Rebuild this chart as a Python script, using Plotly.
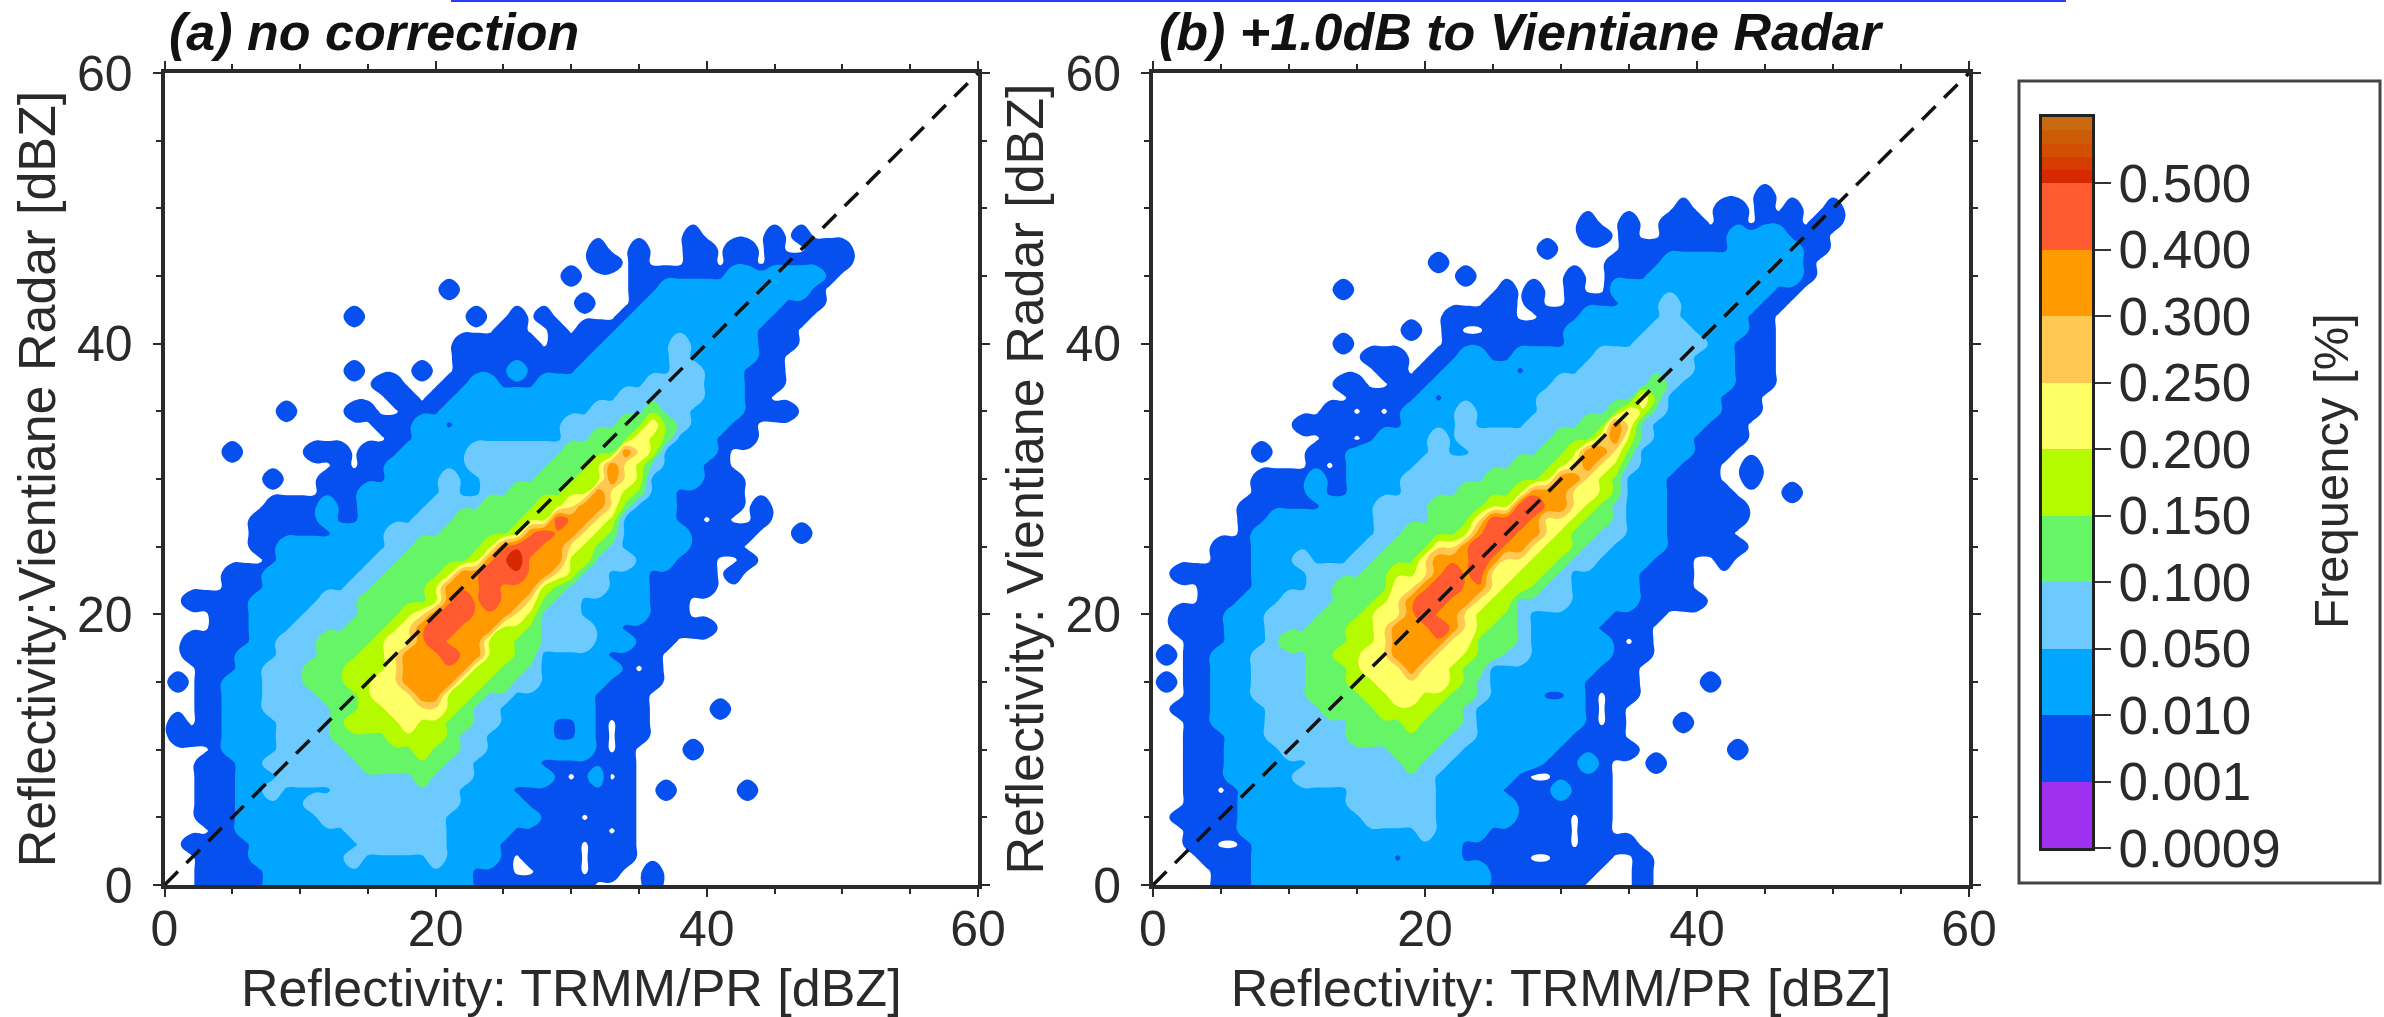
import numpy as np
import plotly.graph_objects as go

W, H = 2384, 1017
N = 53
TICKS = [0, 20, 40, 60]
BAR_LABELS = ["0.0009", "0.001", "0.010", "0.050", "0.100", "0.150", "0.200",
              "0.250", "0.300", "0.400", "0.500"]
COLORS = ["#ffffff", "#0650f0", "#00a6ff", "#6ccaff", "#66f566", "#b4fb00",
          "#ffff66", "#ffc850", "#ff9a00", "#ff5a30", "#d82800"]
PURPLE = "#a030f0"
TOP_BAND = ["#d82800", "#d63c00", "#d24e00", "#cc5c08", "#c86a10"]

# Extent read per row (row = Vientiane dBZ): [from, to, from, to ...] along TRMM dBZ
A_DARK = {48:[38.4,40.3,44.3,45.3,46.5,47.5],47:[31,32.5,34.2,36.3,37.7,40.5,41.5,43.4,44.3,45.5,46.7,50.7],
46:[31.4,33.5,34.2,36.3,37.7,40.5,41.5,43.5,44.3,50.7],45:[29.3,30.4,34.2,49.5],44:[20.3,21.5,34,49],
43:[29.7,31.7,34,48.8],42:[13.3,14.5,22.3,23.8,24.8,26.7,27.2,29,33,47.4],41:[24,27,28,29.7,30.5,46.9],
40:[21,27.5,28.2,46.7],39:[21,46.2],38:[13.3,14.5,18.2,19.6,20.8,45.7],37:[15,18.3,19.7,45.7],36:[16,18.6,19,45],
35:[8,10,13.2,15.4,17,46.5],34:[15,44],33:[15.7,43.4],32:[4,5.6,10,13.4,14,41.7],31:[12,42],30:[7.2,8.4,11,42.5],
29:[11.5,42.4],28:[7,42.4,43.5,44.6],27:[6.4,42,43.5,44.6],26:[6,43.6,46.5,47.8],25:[6,43],24:[7,40.6,42,43.6],
23:[4,40.6,41.5,43],22:[4,40.6],21:[1.2,39.2],20:[3,38.9],19:[3,40.6],18:[1,37.7],17:[1,36.8],16:[2,36.6],
15:[0,1.4,2,36.6],14:[2,36.3],13:[2,36.3,40.4,41.6],12:[0,1.5,2,36.3],11:[0,35.4],10:[3,35,38.3,39.7],9:[2,35],
8:[2,34.7],7:[2,34.7,36.3,37.7,42.3,43.7],6:[2,34.7],5:[2,34.7],4:[3,34.7],3:[1,34.7],2:[1.8,34.5],
1:[2,33.5,35.5,36.7],0:[2,32.3,35.5,36.7]}
A_MID = {45:[41,49],44:[36,47.6],43:[35,45.7],42:[33.5,45],41:[33.3,44.3],40:[32,44],39:[31,43.6],38:[25.2,26.5,30,43],
37:[21.5,25,27,43],36:[20.5,43],35:[20,43],34:[17.6,42],33:[17.9,41],32:[17.3,40.8],31:[15.9,39.6],30:[15.6,40],
29:[13.7,38.4],28:[11,13,14,38.2],27:[11.7,13,13.7,38.5],26:[11.5,38.7],25:[8.3,38.7],24:[8,37.7],23:[7,35.9],
22:[7,36.3],21:[5.8,36.3],20:[5.6,36.3],19:[6,35],18:[5.6,35],17:[5,34.4],16:[4.5,34.2],15:[4,33.3],14:[3.6,31.9],
13:[3.6,31.6],12:[3.6,31.6],11:[4,31.9],10:[3.7,32],9:[5,28.5],8:[5,29,31.4,33],7:[5,26.5],6:[4.9,26.7],5:[4.8,28],
4:[5,26.2],3:[6.1,25.2],2:[6.4,24.7],1:[6.8,22.8],0:[7,23]}
A_LIGHT = {40:[37,39],39:[36.5,39.5],38:[36.5,40],37:[34.5,40],36:[32.5,40],35:[30.5,39.5],34:[29,39],33:[29,38.4],
32:[21.7,37.5],31:[22.3,36.6],30:[20.6,21.6,23,36],29:[20.6,21.3,23.3,35.4],28:[18.6,35],27:[18.4,34.5],26:[16,34],
25:[16,34],24:[15,34.6],23:[13.7,33.5],22:[12.7,32.6],21:[10.5,31],20:[9.8,31.4],19:[8.8,31.6],18:[8,31.6],
17:[7.8,28.2],16:[7.4,28.4],15:[7.2,28.2],14:[7,25.7],13:[7.3,24.7],12:[7.5,24.6],11:[7.7,24.4],10:[7.7,23.8],
9:[7.3,23.5],8:[7.5,23],7:[8,9,12,22.5],6:[10.4,21.7],5:[11,21.3],4:[12.5,20.8],3:[13.7,20.6],2:[13.7,14.2,19.8,20.3]}
A_GREEN = {8:[17.9,20],9:[13.7,20.8],10:[13.4,22],11:[11.7,22.5],12:[11.5,23],13:[11.5,23.5],14:[10.7,24],15:[10,25.7],
16:[9.6,26.7],17:[11.2,27.7],18:[11,27.7],19:[12.5,27.7],20:[13.7,27.7],21:[14,29.2],22:[14.7,30],23:[15.6,31],
24:[17.2,32],25:[17.6,33],26:[19.8,33.6],27:[20.6,34],28:[22.5,35],29:[24.5,36],30:[26.7,36.5],31:[28.4,36.3],
32:[29.4,37],33:[30.9,37.7],34:[33,38],35:[34.8,37.5]}
A_LIME = {10:[18.6,19.6],11:[16,20.8],12:[13.4,21.5],13:[14,22.5],14:[14,23],15:[13.2,24.3],16:[13.4,25],17:[14.2,25.7],
18:[15,26],19:[15.9,26.7],20:[16.9,27.7],21:[18.6,28.4],22:[19.3,29.4],23:[20,30.9],24:[21.8,31.6],25:[22.8,32],
26:[24.5,33],27:[26,33.8],28:[27.4,34.2],29:[28.7,35.4],30:[30,36.3],31:[30.6,36.5],32:[32.6,36.7],33:[33.8,37],34:[35.3,37]}
A_YELLOW = {12:[16.9,18.6],13:[15.9,21],14:[15.2,21.5],15:[15,22.5],16:[15.6,23.5],17:[15.7,24.2],18:[16,24.5],19:[17,25.5],
20:[17.9,27],21:[19.8,27.7],22:[20,28.2],23:[21,29.7],24:[23.5,30.4],25:[25,31],26:[26,32],27:[28.2,32.6],28:[29.4,33.6],
29:[30.6,34],30:[31.9,35],31:[32.5,35.5],32:[33,35.8],33:[34.3,36.2],34:[35.5,36.5]}
A_ORANGE = {14:[18,20.6],15:[17,21.8],16:[17.1,22.5],17:[17.6,23.5],18:[17.9,23.8],19:[18.4,24.5],20:[19,26],21:[20,26.7],
22:[20,27.5],23:[21.8,28.7],24:[23.8,29.4],25:[24.5,30],26:[26.5,30.9],27:[29,31.6],28:[30,32.6],29:[31.1,33],30:[31.9,33.6],
31:[32.6,34],32:[33.3,34.3]}
A_RED = {17:[20.3,20.8],18:[19.4,21.3],19:[19.4,22],20:[20.4,22.8],21:[21.8,22.3,23.5,24],22:[23.3,25],23:[23.3,26.5],
24:[24.5,27.2],25:[25.2,28],26:[27,29],27:[28.4,29]}
A_PEAK = {24:[25.7,26.3]}
# single cells (column, row) where the picture shows a white hole or a dark island
A_HOLES = [(31,1),(31,2),(31,3),(33,10),(33,11),(33,12),(35,16),(26,1),(27,1),(26,2),(30,8),(33,8),(31,5),(33,4),(14,31),(40,27)]
A_ISLANDS = [(29,11),(30,11),(29,12),(30,12),(21,34),(34,19),(33,17)]

B_DARK = {51:[44.4,45.2],50:[38,40.3,41.2,43.6,44.3,45.5,46.4,47.6,49,50.6],
49:[31.2,33.3,34.2,36.3,37,40.5,41.2,43.6,44.3,47.6,48.3,50.6],48:[31.2,33.5,34.2,36.3,37,49.7],47:[28.7,30.2,34.2,49.7],
46:[20,21.6,33,49.2],45:[22,23.5,30,32,33,48.8],44:[13.3,14.5,25,27,27.3,29,30,31.6,33,48],
43:[24.3,26.7,27.7,29.2,30,47.3],42:[21.2,26.7,28,46.3],41:[18.2,19.4,21.2,23.3,24,45.7],40:[13.3,14.5,21,45.5],
39:[15.2,18.4,20,22,25,26,29.7,45.5],38:[16,18.7,19,21,30,45.8],37:[13.1,15.7,17.2,20.1,31,46],36:[14.2,18.7,32,44.8],
35:[12,14.4,14.8,18,33,44.5],34:[10,17.5,34,44.3],33:[12,15.5,35,43.5],32:[7.2,8.4,11.5,14,36,43],31:[11,13.8,36,42,43,44.4],
30:[7.1,13.7,36,42,43,44.4],29:[7.1,14,37,42.5,46.3,47.6],28:[6,12,37,44],27:[6,8,38,43.6],26:[6,7.4,38,43],25:[4,6.9,38,43.4],
24:[4,6.9,37.5,39.7,41.5,43],23:[1.3,6.9,36.5,39.7],22:[3.2,6.6,36,39.5],21:[3.2,5.7,36,40.4],20:[1.3,5.4,34.5,38],
19:[1.3,5.4,34,36.6],18:[2.2,4.7,34,36.6],17:[0,1.5,2.2,4.2,33.7,36.6],16:[2.2,4.2,33.5,36.3],15:[0,1.5,2.2,3.7,32.5,36.3,40,41.6],
14:[2.2,3.5,32,35.7],13:[1.3,3.5,32,35],12:[2.2,3.5,31.7,35,38,39.6],11:[2.2,4.9,31.5,35],10:[2.1,4.9,30,35.5,42,43.5],
9:[2,5.2,29,34,36,37.6],8:[2,5.2,27,34],7:[2,5.7,26.5,34.2],6:[2.5,5.9,27.5,33.8],5:[1.1,6.2,27,33.6],4:[2,6.2,25,33.8],
3:[2.2,7.1,22.6,36],2:[3.2,7.1,22.6,33.5,34.8,36.3],1:[4,7,25,33,35,36.5],0:[4.3,7,25,32.3,35,36.8]}
B_MID = {48:[42,47.5],47:[41.5,48],46:[37,48],45:[35.6,47.6],44:[33,46.5],43:[34,45],42:[31.4,44.5],41:[30,44],40:[29.7,43.5],
39:[22,25,26,43],38:[21,43],37:[20,43],36:[18.7,42.5],35:[18,42],34:[17.5,41.5],33:[15.5,40.5],32:[14,40],31:[13.8,39.5],
30:[11,13,13.7,38.5],29:[11,13,14,38],28:[12,38.5],27:[8,38.5],26:[7.4,38],25:[6.9,38],24:[6.9,37.5],23:[6.9,36.5],22:[6.6,36],
21:[5.7,36],20:[5.4,34.5],19:[5.4,34],18:[4.7,34],17:[4.2,33.7],16:[4.2,33.5],15:[3.7,32.5],14:[3.5,32],13:[3.5,32],12:[3.5,31.7],
11:[4.9,31.5],10:[4.9,30],9:[5.2,29,31.5,33],8:[5.2,27],7:[5.7,26.5,29.7,30.7],6:[5.9,27.5],5:[6.2,27],4:[6.2,25],3:[7.1,22.6],2:[7.1,22.6],
1:[7,25],0:[7,25]}
B_LIGHT = {43:[37.5,39],42:[36.5,39.5],41:[36,40.5],40:[35,41],39:[32,40.5],38:[30.7,40],37:[29.2,39.3],36:[27.7,38.5],
35:[22.3,23.2,27.7,38],34:[21.7,23.6,27.2,37],33:[20.2,21,22.4,36.8],32:[19.6,21.5,22.5,36.3],31:[19.4,36],30:[18.4,35.5],
29:[18.4,35],28:[16.2,35],27:[16,35],26:[16.4,35],25:[14.7,34],24:[10.7,11.8,14,33],23:[10.6,31.4],22:[11,31.5],21:[8.8,31],
20:[7.7,28],19:[7.6,28.5],18:[7.6,28.5],17:[7.1,28],16:[7.1,25.5],15:[7.1,24.7],14:[6.9,24.7],13:[7.6,24.4],12:[7.6,24],
11:[7.9,24],10:[9.1,23],9:[11,22],8:[10.3,21.5],7:[13.5,21],6:[13.8,21],5:[14.7,20.8],4:[19.1,20.6]}
B_GREEN = {9:[18.4,19.6],10:[17.4,20.6],11:[13.5,22.5],12:[13.5,23.5],13:[11.5,23.5],14:[11,24],15:[10.8,24.5],16:[10.8,25.3],
17:[10.8,26],18:[9.3,27],19:[11,27.5],20:[11.8,27.2],21:[13.3,27.5],22:[13.3,29.5],23:[14.7,30.3],24:[15.7,31],25:[17.2,32],
26:[17.7,33],27:[19.9,33.7],28:[20.1,34.5],29:[22.3,35],30:[23.6,35],31:[26,35.5],32:[28,35.7],33:[29,36],34:[31,36.5],
35:[32.6,37.5],36:[34.6,37.7],37:[36,37.5]}
B_LIME = {12:[18.2,19.4],13:[16.4,21.1],14:[15,21.8],15:[13.8,23.1],16:[13.5,23.5],17:[13.3,24],18:[13.5,24.5],19:[14.2,25.5],
20:[14.7,26.5],21:[15.7,27.5],22:[16.7,28.5],23:[17.4,29],24:[19,30],25:[20,31],26:[22.3,31.4],27:[22.6,32.4],28:[24,33.1],
29:[26,33.6],30:[27.7,34],31:[29.2,34.6],32:[30.4,35],33:[31.6,35.6],34:[33.6,36],35:[35,36.5],36:[36,37]}
B_YELLOW = {14:[16.7,20.1],15:[16,21.6],16:[14.7,22.2],17:[15.2,23.3],18:[15.5,23.6],19:[16,24],20:[16,24.3],21:[17,25.5],
22:[17.2,26.5],23:[18.7,27.2],24:[19.4,28],25:[20.1,29.2],26:[22.8,30.2],27:[23.3,30.9],28:[25.8,32.1],29:[27.5,32.7],
30:[28.7,33.4],31:[30.2,34.1],32:[31,34.6],33:[32.1,35],34:[33.4,35.8],35:[34.5,36.3],36:[35.5,36.5]}
B_ORANGE = {16:[18.4,19.1],17:[17.4,20.6],18:[17.2,21.8],19:[17.7,22.8],20:[17.9,23.1],21:[18.2,23.3],22:[19,24.5],23:[19.9,24.8],
24:[20.1,26],25:[22.6,27.2],26:[23.6,28.2],27:[24,28.7],28:[26.2,30.2],29:[27.7,30.9],30:[29.2,31.9],31:[31.2,32.6],
32:[31.4,33.4],33:[32.9,34.1],34:[34,35]}
B_RED = {19:[20.6,21],20:[19.4,21.1],21:[19.4,22.1],22:[19.9,22.6],23:[21.1,22.3,23.3,23.8],24:[23.3,25],25:[23.6,26],
26:[23.8,26.7],27:[24.5,27.7],28:[26.2,28.7]}
B_HOLES = [(31,3),(31,4),(31,5),(33,12),(33,13),(33,14),(35,18),(28,2),(29,2),(28,8),(29,8),(5,7),(17,35),(15,33),(13,31),(5,3),(6,3)]
B_ISLANDS = [(21,36),(27,38),(29,14),(30,14),(18,2),(33,19)]

# inset of each band when its read extent is turned into grid cells
INSET = {1: 0.35, 2: 0.6, 3: 0.6, 4: 0.6, 5: 0.6, 6: 0.55, 8: 0.15, 9: 0.4, 10: 0.3}


def grid(classes, holes, islands):
    z = np.zeros((N, N))
    for k, table in classes:
        m = INSET[k]
        for row, spans in table.items():
            for a, b in zip(spans[0::2], spans[1::2]):
                cells = [c for c in range(N) if a + m <= c <= b - m] or [round((a + b) / 2)]
                z[row, cells] = np.maximum(z[row, cells], k)
    # a cell left empty between the outer band and the next band belongs to the outer band
    for r in range(N):
        for c in range(1, N - 1):
            if z[r, c] == 0 and z[r, c - 1] > 0 and z[r, c + 1] > 0 and max(z[r, c - 1], z[r, c + 1]) >= 2:
                z[r, c] = 1
    for c, r in holes:
        z[r, c] = 0
    for c, r in islands:
        z[r, c] = 1
    return z


Z_A = grid([(1, A_DARK), (2, A_MID), (3, A_LIGHT), (4, A_GREEN), (5, A_LIME), (6, A_YELLOW),
            (8, A_ORANGE), (9, A_RED), (10, A_PEAK)], A_HOLES, A_ISLANDS)
Z_B = grid([(1, B_DARK), (2, B_MID), (3, B_LIGHT), (4, B_GREEN), (5, B_LIME), (6, B_YELLOW),
            (8, B_ORANGE), (9, B_RED)], B_HOLES, B_ISLANDS)

n = len(COLORS)
scale = []
for i, c in enumerate(COLORS):
    scale += [[i / n, c], [(i + 1) / n, c]]

fig = go.Figure()
dom = lambda a, b, s: [a / s, b / s]
PANELS = [("x", "y", Z_A, 164.5, 978, "Reflectivity:Vientiane Radar [dBZ]", "<b><i>(a) no correction</i></b>", 167),
          ("x2", "y2", Z_B, 1153, 1969, "Reflectivity: Vientiane Radar [dBZ]", "<b><i>(b) +1.0dB to Vientiane Radar</i></b>", 1157)]
FONT = "Liberation Sans"
INK = "#2a2a2a"
layout = {}
for i, (xa, ya, z, x0, x1, ytitle, title, tx) in enumerate(PANELS):
    s = "" if i == 0 else "2"
    fig.add_trace(go.Contour(z=z, x=list(range(N)), y=list(range(N)), xaxis=xa, yaxis=ya,
                             autocontour=False, contours=dict(start=0.2, end=9.2, size=1, coloring="fill", showlines=False),
                             line=dict(width=0, smoothing=1.3), colorscale=scale, zmin=-0.8, zmax=10.2, showscale=False,
                             hoverinfo="skip"))
    fig.add_trace(go.Scatter(x=[0, 60], y=[0, 60], xaxis=xa, yaxis=ya, mode="lines",
                             line=dict(color="#111", width=3.5, dash="19px,12px"), showlegend=False, hoverinfo="skip"))
    common = dict(range=[0, 60], tickvals=TICKS, ticks="outside", ticklen=8, tickwidth=2, tickcolor=INK,
                  showline=True, linewidth=4, linecolor=INK, mirror="allticks", showgrid=False, zeroline=False,
                  tickfont=dict(family=FONT, size=50, color=INK),
                  minor=dict(dtick=5, ticks="outside", ticklen=5, tickwidth=1.5, tickcolor=INK, showgrid=False))
    layout["xaxis" + s] = dict(common, domain=dom(x0, x1, W), anchor=ya, ticklabelstandoff=-11,
                               title=dict(text="Reflectivity: TRMM/PR [dBZ]", standoff=20,
                                          font=dict(family=FONT, size=52, color=INK)))
    layout["yaxis" + s] = dict(common, domain=[1 - 885 / H, 1 - 73 / H], anchor=xa, ticklabelstandoff=10,
                               title=dict(text=ytitle, standoff=6, font=dict(family=FONT, size=52, color=INK)))
    fig.add_annotation(text=title, xref="paper", yref="paper", x=tx / W, y=1 - 32 / H, xanchor="left", yanchor="middle",
                       showarrow=False, font=dict(family=FONT, size=52, color="#111"))

# colour key: eleven bands, the top one shaded
edges = list(range(11)) + [10.2, 10.4, 10.6, 10.8, 11]
all_colors = [PURPLE] + COLORS[1:10] + TOP_BAND
m = len(all_colors)
key_scale = []
for i, c in enumerate(all_colors):
    key_scale += [[i / m, c], [(i + 1) / m, c]]
fig.add_trace(go.Heatmap(z=[[i + 0.5] for i in range(m)], x=[0, 1], y=edges, xaxis="x3", yaxis="y3",
                         colorscale=key_scale, zmin=0, zmax=m, showscale=False, hoverinfo="skip"))
layout["xaxis3"] = dict(domain=dom(2042, 2092, W), range=[0, 1], anchor="y3", showticklabels=False, ticks="",
                        showgrid=False, zeroline=False, showline=True, linewidth=3, linecolor="#222", mirror=True)
layout["yaxis3"] = dict(domain=[1 - 848 / H, 1 - 117 / H], range=[0, 11], anchor="x3", side="right",
                        tickvals=list(range(11)), ticktext=BAR_LABELS, ticks="outside", ticklen=16, tickwidth=2,
                        tickcolor="#333", tickfont=dict(family=FONT, size=53, color=INK), ticklabelstandoff=-3,
                        showgrid=False, zeroline=False, showline=True, linewidth=3, linecolor="#222", mirror=True)
fig.add_annotation(text="Frequency [%]", xref="paper", yref="paper", x=2331 / W, y=1 - 471 / H, textangle=-90,
                   xanchor="center", yanchor="middle", showarrow=False, font=dict(family=FONT, size=49, color=INK))
fig.update_layout(width=W, height=H, margin=dict(l=0, r=0, t=0, b=0, autoexpand=False), paper_bgcolor="white",
                  plot_bgcolor="white", showlegend=False, **layout)
fig.add_shape(type="rect", xref="paper", yref="paper", x0=2019 / W, x1=2380 / W, y0=1 - 883 / H, y1=1 - 81 / H,
              line=dict(color="#444", width=3))
fig.add_shape(type="line", xref="paper", yref="paper", x0=451 / W, x1=2066 / W, y0=1 - 1 / H, y1=1 - 1 / H,
              line=dict(color="#2a3cff", width=2))
fig.write_html("out.html", post_script="document.body.style.margin='0';", config={"displayModeBar": False})
